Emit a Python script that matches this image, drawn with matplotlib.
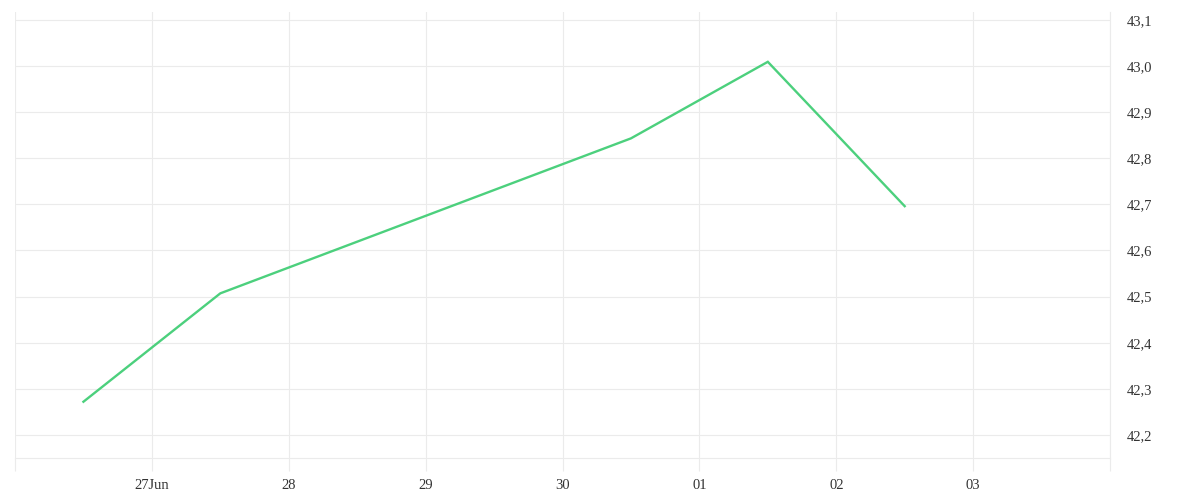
import matplotlib
matplotlib.use("Agg")
import matplotlib.pyplot as plt
from matplotlib.ticker import FuncFormatter, MultipleLocator
from datetime import datetime

# Data
dates = ["2024-06-26 12:00", "2024-06-27 12:00", "2024-06-30 12:00",
         "2024-07-01 12:00", "2024-07-02 12:00"]
values = [42.272, 42.507, 42.843, 43.009, 42.696]

tick_dates = ["2024-06-26", "2024-06-27", "2024-06-28", "2024-06-29", "2024-06-30",
              "2024-07-01", "2024-07-02", "2024-07-03", "2024-07-04"]
tick_labels = ["", "27Jun", "28", "29", "30", "01", "02", "03", ""]

x = [datetime.strptime(d, "%Y-%m-%d %H:%M") for d in dates]
tx = [datetime.strptime(d, "%Y-%m-%d") for d in tick_dates]

grid_c = "#ebebeb"
line_c = "#4cd07d"
text_c = "#333333"

fig = plt.figure(figsize=(12, 5), dpi=100)
ax = fig.add_axes([0.0125, 0.084, 0.9125, 0.892])

ax.plot(x, values, color=line_c, linewidth=1.7, solid_joinstyle="miter")

ax.set_xlim(tx[0], tx[-1])
ax.set_ylim(42.15, 43.117)

ax.set_xticks(tx)
ax.set_xticklabels(tick_labels)
ax.yaxis.set_major_locator(MultipleLocator(0.1))
ax.yaxis.set_major_formatter(FuncFormatter(lambda v, p: f"{v:.1f}".replace(".", ",")))
ax.yaxis.tick_right()

ax.grid(True, color=grid_c, linewidth=0.8)
ax.set_axisbelow(True)

for s in ["top", "left"]:
    ax.spines[s].set_visible(False)
for s in ["right", "bottom"]:
    ax.spines[s].set_color(grid_c)
    ax.spines[s].set_linewidth(0.8)

ax.tick_params(axis="x", length=9, color=grid_c, width=0.8, pad=6,
               labelsize=10.5, labelcolor=text_c)
ax.tick_params(axis="y", length=0, pad=12, labelsize=10.5, labelcolor=text_c)
for lab in ax.get_xticklabels() + ax.get_yticklabels():
    lab.set_fontfamily("Liberation Serif")
for lab in ax.get_yticklabels():
    lab.set_verticalalignment("center_baseline")

fig.savefig("out.png", dpi=100, facecolor="white")
